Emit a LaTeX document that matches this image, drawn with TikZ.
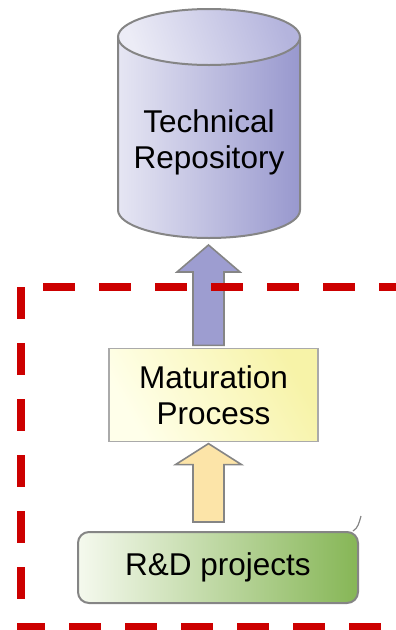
\documentclass[tikz,border=0pt]{standalone}
\usepackage{fontspec}
\setmainfont{Liberation Sans}
\usetikzlibrary{calc}
\definecolor{dashred}{HTML}{CC0000}
\definecolor{edgegray}{HTML}{858585}
\definecolor{cylL}{HTML}{E6E6F3}
\definecolor{cylR}{HTML}{9898CE}
\definecolor{topL}{HTML}{ECECF6}
\definecolor{topR}{HTML}{B4B4DD}
\definecolor{upfill}{HTML}{9D9DD0}
\definecolor{lowfill}{HTML}{FCE4A8}
\definecolor{matL}{HTML}{FFFFEA}
\definecolor{matR}{HTML}{F7F3A8}
\definecolor{rdL}{HTML}{F5F9EE}
\definecolor{rdR}{HTML}{86B656}
\tikzset{
  bigtext/.style={font=\fontsize{31.5}{36}\selectfont, align=center, text=black},
  redline/.style={draw=dashred, line width=8pt, dash pattern=on 32pt off 24pt},
  blockarrow/.style={draw=edgegray, line width=1.6pt, line join=miter},
}
\begin{document}
\begin{tikzpicture}[x=1pt,y=1pt]
\useasboundingbox (0,0) rectangle (396,-630);
% cylinder
\shade[left color=cylL, right color=cylR]
  (118,-37) -- (118,-210) arc (180:360:91pt and 28pt) -- (300,-37) arc (0:180:91pt and 28pt) -- cycle;
\shade[left color=topL, right color=topR, shading angle=110] (209,-37) ellipse (91pt and 28pt);
\draw[edgegray, line width=2pt]
  (118,-37) -- (118,-210) arc (180:360:91pt and 28pt) -- (300,-37);
\draw[edgegray, line width=2pt] (209,-37) ellipse (91pt and 28pt);
\node[bigtext] (cyl) at (209,-142) {Technical\\Repository};
\coordinate (cylbot) at (208.5,-238);
% maturation box
\node[bigtext, draw=edgegray!70, line width=1.2pt, left color=matL, right color=matR, shading angle=120,
      minimum width=209pt, minimum height=93pt, inner sep=0pt] (mat) at (213.5,-395) {Maturation\\Process};
% R&D box
\node[bigtext, draw=edgegray, line width=2pt, rounded corners=11pt, left color=rdL, right color=rdR,
      minimum width=280pt, minimum height=71pt, inner sep=0pt] (rd) at (218,-567.5) {R\&D projects};
\draw[edgegray, line width=1.2pt] ($(rd.north east)+(-6,0)$) .. controls ($(rd.north east)+(-1,3)$) and ($(rd.north east)+(0,8)$) .. ($(rd.north east)+(2,15)$);
% upper block arrow
\draw[blockarrow, fill=upfill] let \p1=(mat.north), \p2=(cylbot) in
  (\x2-15.5pt,\y1+2.5pt) -- (\x2-15.5pt,\y2-34pt) -- (\x2-31.5pt,\y2-34pt) -- (\x2,\y2-7pt)
  -- (\x2+31.5pt,\y2-34pt) -- (\x2+15.5pt,\y2-34pt) -- (\x2+15.5pt,\y1+2.5pt) -- cycle;
% lower block arrow
\draw[blockarrow, fill=lowfill] let \p1=(rd.north), \p2=(mat.south), \p3=(cylbot) in
  (\x3-15.5pt,\y1+9pt) -- (\x3-15.5pt,\y2-22.5pt) -- (\x3-33pt,\y2-22.5pt) -- (\x3,\y2-1.5pt)
  -- (\x3+33pt,\y2-22.5pt) -- (\x3+15.5pt,\y2-22.5pt) -- (\x3+15.5pt,\y1+9pt) -- cycle;
% red dashed frame
\coordinate (tl) at (21,-287);
\coordinate (tr) at (420,-287);
\coordinate (tstart) at (43,-287);
\coordinate (bl) at (21,-627);
\coordinate (bstart) at (17,-627);
\coordinate (br) at (420,-627);
\draw[redline] (tstart) -- (tr);
\draw[redline] (tl) -- (bl);
\draw[redline, dash phase=4pt] (bstart) -- (br);
\end{tikzpicture}
\end{document}
